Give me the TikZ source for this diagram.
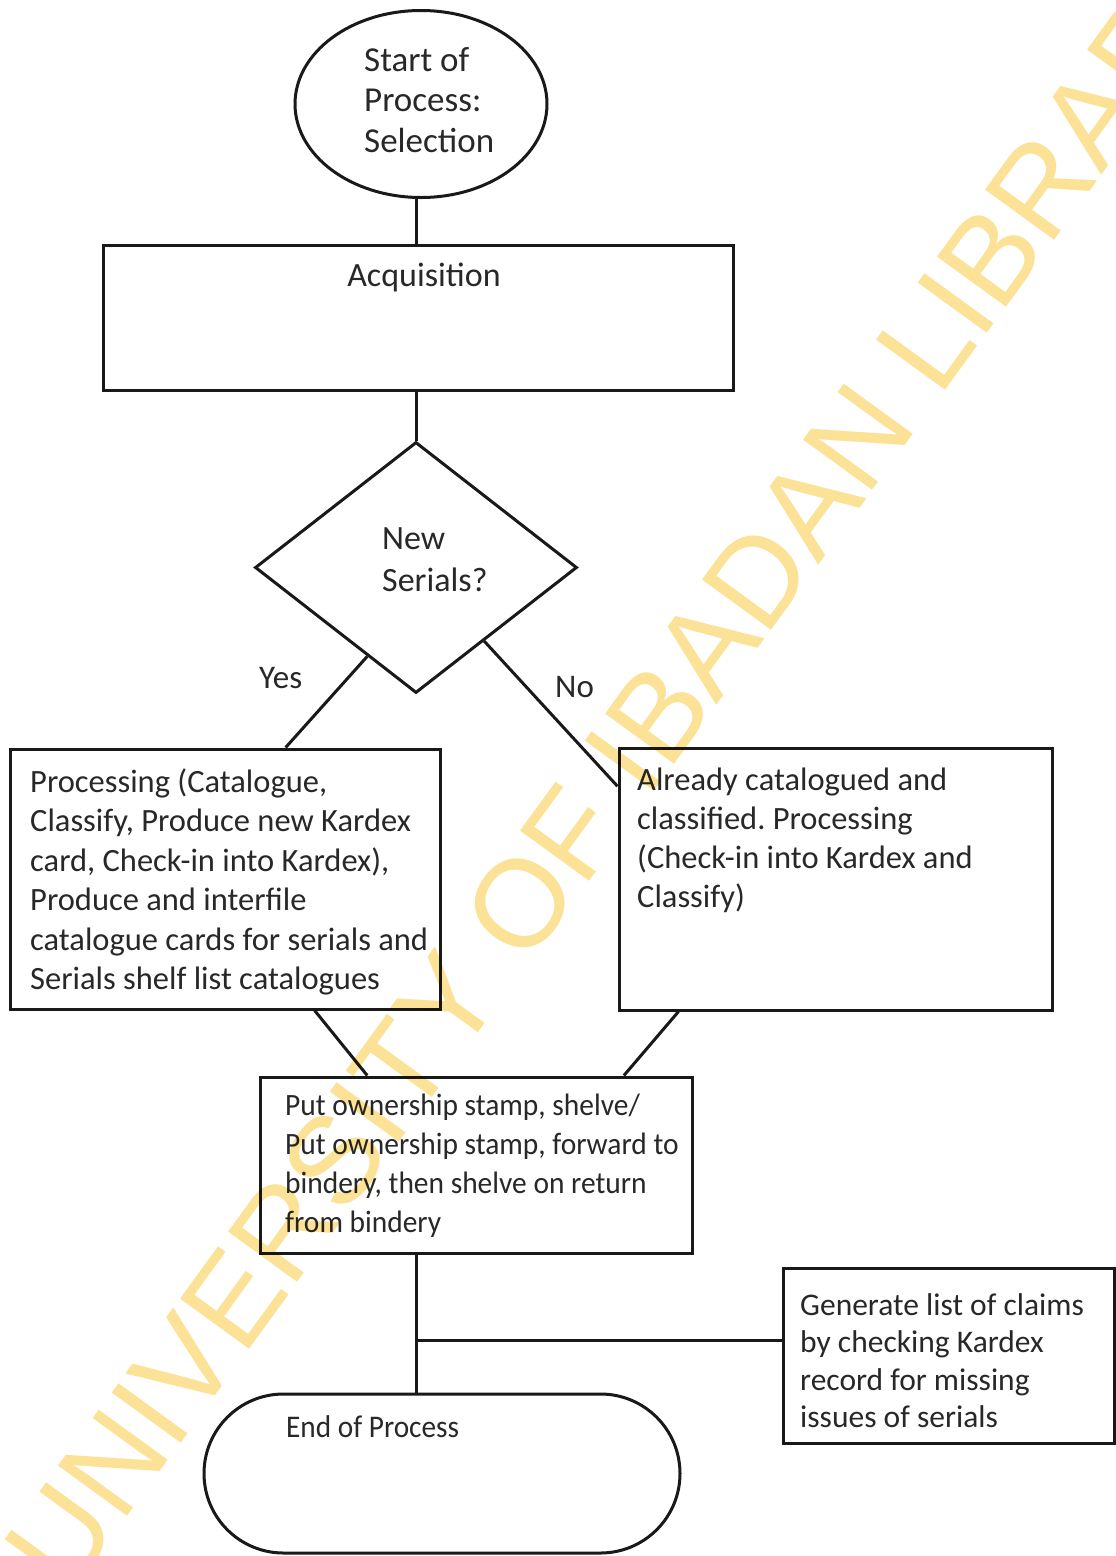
\documentclass[tikz,border=0pt]{standalone}
\usepackage{fontspec}
\setmainfont{Carlito}
\newfontfamily\wmfamily{Liberation Sans}
\newfontfamily\condfont[FakeStretch=0.95]{Carlito}
\newfontfamily\condfontb[FakeStretch=0.93]{Carlito}
\usetikzlibrary{shapes.geometric,shapes.misc,calc}
\definecolor{ink}{RGB}{40,40,40}
\definecolor{edge}{RGB}{25,25,25}
\definecolor{wmyellow}{RGB}{251,226,150}
\newcommand\fs[2]{\fontsize{#1}{#2}\selectfont}
\frenchspacing
\begin{document}
\begin{tikzpicture}[x=1pt,y=-1pt,
  shapebox/.style={draw=edge, line width=3pt, inner sep=0pt, fill=none},
  txt/.style={inner sep=0pt, anchor=north west, align=left, text=ink},
  lbl/.style={inner sep=0pt, anchor=base west, text=ink},
  conn/.style={draw=edge, line width=3pt}]
\useasboundingbox (0,0) rectangle (1116,1556);
\fill[white] (0,0) rectangle (1116,1556);

% shapes
\node[shapebox, ellipse, minimum width=252pt, minimum height=187pt] (ell) at (421,104) {};
\node[shapebox, rectangle, minimum width=630pt, minimum height=145pt] (acq) at (418,317.5) {};
\node[shapebox, diamond, minimum width=322pt, minimum height=251pt] (dia) at (416,567.5) {};
\node[shapebox, rectangle, minimum width=430pt, minimum height=260pt] (lb) at (225,879) {};
\node[shapebox, rectangle, minimum width=433pt, minimum height=262pt] (rb) at (835.5,879) {};
\node[shapebox, rectangle, minimum width=432pt, minimum height=176pt] (bb) at (476,1165) {};
\node[shapebox, rectangle, minimum width=331pt, minimum height=175pt] (cb) at (948.5,1355.5) {};
\node[shapebox, rounded rectangle, minimum width=476pt, minimum height=159pt] (eb) at (442,1473.5) {};

% texts
\node[txt, font=\fs{35}{40.5}] (ellt) at (364,42.65) {\strut Start of\\Process:\\Selection};
\node[inner sep=0pt, anchor=base, text=ink, font=\fs{34}{41}] (acqt) at (424,286) {Acquisition};
\node[txt, font=\fs{34}{42}] (diat) at (382,519.6) {\strut New\\Serials?};
\node[lbl, font=\fs{33}{40}] (yes) at (259,688) {Yes};
\node[lbl, font=\fs{33}{40}] (no) at (555,697) {No};
\node[txt, font=\fs{32.5}{39.5}] (lbt) at (30,764.35) {\strut Processing (Catalogue,\\Classify, Produce new Kardex\\card, Check-in into Kardex),\\Produce and interfile\\catalogue cards for serials and\\Serials shelf list catalogues};
\node[txt, font=\fs{32.5}{39}] (rbt) at (637,762.7) {\strut Already catalogued and\\classified. Processing\\(Check-in into Kardex and\\Classify)};
\node[txt, font=\condfont\fs{31}{39}] (bbt) at (285,1087.7) {\strut Put ownership stamp, shelve/\\Put ownership stamp, forward to\\bindery, then shelve on return\\from bindery};
\node[txt, font=\fs{31.5}{37.5}] (cbt) at (800,1288.75) {\strut Generate list of claims\\by checking Kardex\\record for missing\\issues of serials};
\node[lbl, font=\condfontb\fs{31.5}{36}] (ebt) at (286,1437) {End of Process};

% connectors
\coordinate (jn) at (416,1340);
\draw[conn] (ell.south -| dia.north) -- (acq.north -| dia.north);
\draw[conn] (acq.south -| dia.north) -- (dia.north);
\draw[conn] ($(dia.west)!0.7!(dia.south)$) -- ($(lb.north west)!0.64!(lb.north east)$);
\draw[conn] ($(dia.south)!0.42!(dia.east)$) -- ($(rb.north west)!0.15!(rb.south west)$);
\draw[conn] ($(lb.south west)!0.707!(lb.south east)$) -- ($(bb.north west)!0.25!(bb.north east)$);
\draw[conn] ($(rb.south west)!0.14!(rb.south east)$) -- ($(bb.north west)!0.84!(bb.north east)$);
\draw[conn] (bb.south -| jn) -- (eb.north -| jn);
\draw[conn] (jn) -- (cb.west |- jn);

% watermark
\begin{scope}[blend mode=multiply]
\node[rotate=54, inner sep=0pt, text=wmyellow, font=\wmfamily\fs{124}{124}] (wm) at (625,759) {UNIVERSITY OF IBADAN LIBRARY};
\end{scope}
\end{tikzpicture}
\end{document}
